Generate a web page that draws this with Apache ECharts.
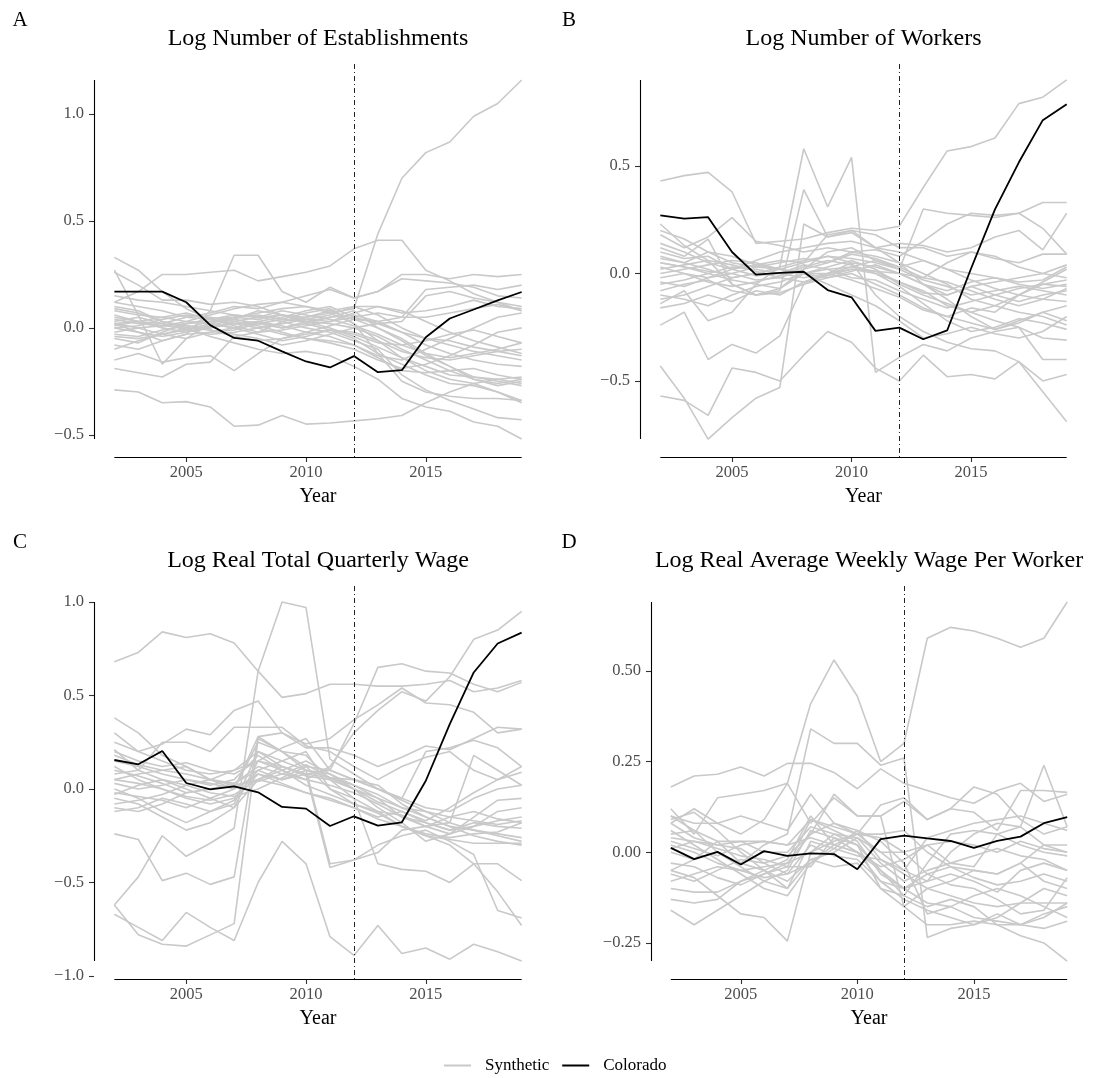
<!DOCTYPE html>
<html>
<head>
<meta charset="utf-8">
<title>Synthetic control placebo paths</title>
<script src="https://cdn.jsdelivr.net/npm/echarts@6/dist/echarts.min.js"></script>
<style>
  html, body { margin: 0; padding: 0; background: #ffffff; }
  #chart { width: 1099px; height: 1078px; }
</style>
</head>
<body>
<div id="chart"></div>
<script>
// Years on the horizontal axis and the policy year marked by the vertical line
const years = [2002, 2003, 2004, 2005, 2006, 2007, 2008, 2009, 2010, 2011, 2012, 2013, 2014, 2015, 2016, 2017, 2018, 2019];
const policyYear = 2012;
const xTicks = [2005, 2010, 2015];

// Panel A: log number of establishments (gap to synthetic control)
const estabColorado = [0.17, 0.17, 0.17, 0.12, 0.013, -0.047, -0.06, -0.11, -0.157, -0.185, -0.132, -0.207, -0.198, -0.044, 0.044, 0.086, 0.129, 0.168];
const estabSynthetic = [
  [0.02, 0.03, 0.01, 0.02, 0.03, 0.05, 0.04, 0.06, 0.05, 0.07, 0.09, 0.44, 0.70, 0.82, 0.87, 0.99, 1.05, 1.16],
  [-0.29, -0.30, -0.35, -0.345, -0.37, -0.46, -0.455, -0.41, -0.45, -0.445, -0.435, -0.425, -0.41, -0.35, -0.30, -0.26, -0.24, -0.23],
  [0.12, 0.17, 0.25, 0.25, 0.26, 0.27, 0.22, 0.24, 0.26, 0.29, 0.37, 0.41, 0.41, 0.27, 0.22, 0.16, 0.12, 0.08],
  [0.02, -0.02, -0.06, -0.03, 0.08, 0.34, 0.34, 0.17, 0.12, 0.19, 0.14, 0.17, 0.25, 0.25, 0.23, 0.25, 0.24, 0.25],
  [0.33, 0.27, 0.17, 0.09, 0.04, 0.02, 0.03, 0.0, 0.02, 0.05, 0.08, 0.0, -0.05, -0.12, -0.18, -0.24, -0.27, -0.25],
  [0.27, 0.06, -0.17, -0.05, 0.02, 0.05, 0.06, 0.04, 0.07, 0.09, 0.02, -0.06, -0.14, -0.20, -0.24, -0.26, -0.30, -0.34],
  [0.26, 0.20, 0.13, 0.13, 0.11, 0.12, 0.10, 0.06, 0.03, 0.0, -0.04, -0.09, -0.14, -0.18, -0.22, -0.23, -0.25, -0.27],
  [-0.19, -0.21, -0.23, -0.17, -0.16, -0.04, -0.02, 0.03, 0.05, 0.08, 0.10, 0.06, 0.0, -0.05, -0.08, -0.11, -0.13, -0.15],
  [-0.15, -0.12, -0.16, -0.14, -0.13, -0.20, -0.12, -0.05, -0.02, 0.01, 0.04, 0.03, 0.05, 0.18, 0.19, 0.20, 0.18, 0.20],
  [0.10, 0.08, 0.03, 0.0, -0.04, -0.07, -0.10, -0.12, -0.11, -0.13, -0.18, -0.24, -0.33, -0.37, -0.39, -0.44, -0.46, -0.52],
  [-0.05, -0.07, -0.02, 0.02, 0.04, 0.06, 0.05, 0.03, 0.0, -0.02, -0.06, -0.10, -0.22, -0.29, -0.34, -0.38, -0.42, -0.43],
  [0.05, 0.03, 0.02, 0.05, 0.07, 0.10, 0.09, 0.12, 0.15, 0.18, 0.14, 0.17, 0.23, 0.22, 0.21, 0.19, 0.15, 0.14],
  [0.0, 0.01, 0.04, 0.06, 0.05, 0.03, 0.01, -0.02, -0.05, -0.06, -0.08, -0.14, -0.20, -0.21, -0.20, -0.19, -0.22, -0.24],
  [0.03, 0.05, 0.02, -0.01, -0.03, -0.02, 0.0, 0.02, 0.04, 0.06, 0.10, 0.10, 0.07, 0.08, 0.10, 0.13, 0.10, 0.09],
  [-0.03, -0.04, -0.01, 0.01, 0.0, 0.03, 0.05, 0.08, 0.06, 0.04, 0.01, -0.03, -0.08, -0.12, -0.14, -0.12, -0.10, -0.07],
  [0.08, 0.06, 0.05, 0.03, 0.02, 0.0, -0.03, -0.06, -0.04, -0.01, -0.05, -0.12, -0.17, -0.22, -0.26, -0.27, -0.30, -0.35],
  [-0.08, -0.10, -0.06, -0.03, -0.02, -0.01, 0.02, 0.04, 0.03, 0.05, 0.06, 0.03, -0.02, -0.05, -0.06, -0.09, -0.11, -0.13],
  [0.02, 0.0, -0.03, -0.05, -0.02, 0.0, 0.03, 0.01, -0.02, -0.04, -0.08, -0.13, -0.15, -0.10, -0.05, 0.0, 0.05, 0.07],
  [0.12, 0.10, 0.08, 0.05, 0.04, 0.05, 0.07, 0.09, 0.10, 0.08, 0.04, 0.0, -0.06, -0.13, -0.18, -0.23, -0.24, -0.26],
  [-0.02, 0.0, 0.01, 0.0, -0.01, -0.03, -0.05, -0.08, -0.06, -0.03, 0.0, 0.02, 0.03, 0.15, 0.17, 0.14, 0.12, 0.10],
  [0.06, 0.03, 0.0, -0.02, 0.0, 0.02, 0.0, -0.03, -0.05, -0.07, -0.10, -0.15, -0.19, -0.17, -0.13, -0.08, -0.02, 0.0],
  [-0.10, -0.06, -0.03, 0.0, 0.03, 0.04, 0.02, 0.0, 0.03, 0.02, 0.0, -0.04, -0.10, -0.15, -0.20, -0.24, -0.26, -0.24],
  [0.15, 0.13, 0.12, 0.10, 0.08, 0.06, 0.05, 0.06, 0.04, 0.03, 0.05, 0.07, 0.05, 0.05, 0.07, 0.09, 0.11, 0.08],
  [0.0, -0.02, -0.04, -0.02, 0.01, 0.04, 0.08, 0.06, 0.02, -0.01, -0.03, -0.07, -0.08, -0.06, -0.03, -0.01, -0.04, -0.07],
  [0.09, 0.07, 0.03, 0.01, -0.01, -0.04, -0.06, -0.05, -0.03, -0.01, -0.02, -0.06, -0.11, -0.14, -0.15, -0.13, -0.11, -0.10],
  [-0.04, -0.05, -0.03, -0.01, 0.02, 0.0, 0.03, 0.05, 0.08, 0.10, 0.05, 0.02, -0.02, -0.08, -0.12, -0.15, -0.17, -0.18],
  [0.04, 0.02, 0.01, 0.03, 0.06, 0.09, 0.11, 0.12, 0.10, 0.07, 0.02, -0.12, -0.25, -0.30, -0.32, -0.33, -0.33, -0.34],
  [0.01, 0.03, 0.05, 0.07, 0.04, 0.01, -0.02, -0.01, 0.01, 0.03, 0.07, 0.10, 0.08, 0.03, -0.02, -0.06, -0.09, -0.12]
];
const estabTicks = [-0.5, 0, 0.5, 1.0];
const estabTickLabels = ['\u22120.5', '0.0', '0.5', '1.0'];

// Panel B: log number of workers
const workersColorado = [0.27, 0.255, 0.262, 0.10, -0.005, 0.003, 0.008, -0.077, -0.111, -0.267, -0.252, -0.306, -0.265, 0.023, 0.298, 0.517, 0.713, 0.787];
const workersSynthetic = [
  [0.43, 0.455, 0.47, 0.38, 0.14, 0.15, 0.16, 0.19, 0.21, 0.20, 0.22, 0.40, 0.57, 0.59, 0.63, 0.79, 0.82, 0.90],
  [0.05, 0.03, 0.0, -0.03, -0.05, 0.03, 0.58, 0.31, 0.54, -0.46, -0.39, -0.33, -0.36, -0.30, -0.27, -0.25, -0.40, -0.40],
  [0.12, 0.08, 0.16, -0.05, -0.10, -0.08, 0.39, 0.17, 0.20, 0.12, 0.14, 0.13, 0.10, 0.12, 0.17, 0.20, 0.11, 0.28],
  [-0.43, -0.58, -0.77, -0.67, -0.58, -0.53, 0.23, 0.17, 0.19, 0.12, 0.05, -0.05, -0.12, -0.20, -0.26, -0.23, -0.18, -0.22],
  [-0.57, -0.59, -0.66, -0.44, -0.46, -0.50, -0.38, -0.27, -0.32, -0.44, -0.50, -0.38, -0.48, -0.47, -0.49, -0.41, -0.50, -0.47],
  [-0.24, -0.18, -0.40, -0.33, -0.37, -0.29, -0.05, 0.0, 0.05, -0.10, -0.20, -0.27, -0.32, -0.35, -0.36, -0.41, -0.55, -0.69],
  [0.23, 0.13, 0.06, -0.05, -0.10, -0.07, 0.02, 0.10, 0.12, 0.06, 0.02, 0.30, 0.28, 0.27, 0.26, 0.28, 0.33, 0.33],
  [0.18, 0.12, 0.17, 0.26, 0.15, 0.13, 0.10, 0.12, 0.10, 0.11, 0.08, 0.15, 0.23, 0.28, 0.27, 0.28, 0.21, 0.09],
  [0.14, 0.10, 0.05, 0.02, 0.04, 0.06, 0.05, 0.18, 0.20, 0.18, 0.12, 0.12, 0.08, 0.10, 0.07, 0.05, 0.09, 0.09],
  [-0.14, -0.08, -0.22, -0.18, -0.05, -0.07, 0.0, 0.02, 0.03, 0.01, -0.04, -0.08, -0.15, -0.18, -0.15, -0.10, -0.05, -0.03],
  [0.08, 0.05, 0.02, -0.02, 0.0, 0.03, 0.06, 0.08, 0.07, 0.05, 0.02, -0.03, -0.06, -0.10, -0.08, -0.06, -0.08, -0.10],
  [-0.10, -0.12, -0.15, -0.10, -0.06, -0.04, 0.0, 0.03, 0.06, 0.02, -0.05, -0.10, -0.14, -0.18, -0.22, -0.25, -0.30, -0.31],
  [0.0, 0.02, 0.04, 0.06, 0.05, 0.02, 0.0, -0.02, 0.01, 0.04, 0.0, -0.05, -0.08, -0.04, -0.02, -0.05, -0.07, -0.05],
  [0.05, 0.03, 0.01, 0.0, -0.03, -0.02, 0.02, 0.05, 0.10, 0.08, 0.05, 0.0, -0.05, -0.12, -0.15, -0.18, -0.20, -0.24],
  [-0.05, -0.03, 0.0, 0.03, 0.02, 0.0, -0.02, 0.0, 0.03, 0.06, 0.03, 0.06, 0.02, 0.0, -0.02, -0.04, -0.03, 0.03],
  [0.10, 0.07, 0.08, 0.02, -0.01, 0.0, 0.04, 0.02, -0.02, -0.03, -0.08, -0.12, -0.16, -0.13, -0.10, -0.07, -0.05, -0.06],
  [-0.02, 0.0, -0.04, -0.06, -0.04, -0.01, 0.03, 0.06, 0.04, 0.0, -0.04, -0.09, -0.10, -0.06, -0.10, -0.13, -0.10, -0.08],
  [0.20, 0.16, 0.10, 0.05, 0.03, 0.02, 0.0, 0.0, 0.02, 0.01, 0.0, -0.02, 0.05, 0.10, 0.08, 0.03, 0.0, -0.02],
  [-0.08, -0.05, -0.03, -0.08, -0.10, -0.09, -0.05, -0.02, 0.0, -0.05, -0.10, -0.16, -0.20, -0.23, -0.26, -0.22, -0.18, -0.15],
  [0.03, 0.0, -0.02, 0.02, 0.06, 0.10, 0.12, 0.14, 0.15, 0.12, 0.10, 0.06, 0.02, -0.03, -0.07, -0.10, -0.12, -0.13],
  [-0.12, -0.10, -0.06, -0.02, 0.0, 0.02, 0.0, -0.05, -0.10, -0.15, -0.22, -0.30, -0.28, -0.25, -0.28, -0.30, -0.27, -0.20],
  [0.07, 0.05, 0.10, 0.08, 0.04, 0.02, 0.05, 0.08, 0.05, 0.03, 0.0, -0.05, -0.10, -0.06, -0.04, -0.02, 0.0, 0.04],
  [-0.04, -0.06, -0.02, 0.0, 0.03, 0.05, 0.07, 0.05, 0.09, 0.07, 0.03, -0.02, -0.04, -0.08, -0.12, -0.15, -0.12, -0.07],
  [0.02, 0.04, 0.06, 0.04, 0.01, -0.02, -0.04, -0.01, 0.02, 0.0, -0.06, -0.14, -0.22, -0.27, -0.25, -0.21, -0.23, -0.26],
  [-0.16, -0.14, -0.10, -0.13, -0.08, -0.10, -0.04, 0.0, -0.03, -0.07, -0.11, -0.17, -0.20, -0.16, -0.18, -0.10, -0.04, 0.02]
];
const workersTicks = [-0.5, 0, 0.5];
const workersTickLabels = ['\u22120.5', '0.0', '0.5'];

// Panel C: log real total quarterly wage
const totalWageColorado = [0.155, 0.132, 0.203, 0.032, -0.002, 0.014, -0.018, -0.096, -0.105, -0.198, -0.146, -0.196, -0.178, 0.044, 0.347, 0.623, 0.778, 0.836];
const totalWageSynthetic = [
  [0.68, 0.73, 0.84, 0.81, 0.83, 0.78, 0.63, 0.49, 0.51, 0.56, 0.56, 0.55, 0.55, 0.56, 0.58, 0.52, 0.54, 0.58],
  [-0.62, -0.47, -0.25, -0.36, -0.29, -0.21, 0.63, 1.0, 0.97, 0.16, 0.08, 0.0, -0.06, -0.12, -0.18, -0.22, -0.25, -0.28],
  [-0.24, -0.27, -0.49, -0.45, -0.51, -0.47, 0.28, 0.30, 0.24, 0.27, 0.37, 0.45, 0.54, 0.46, 0.45, 0.41, 0.30, 0.32],
  [-0.67, -0.74, -0.81, -0.66, -0.74, -0.81, -0.50, -0.28, -0.40, -0.79, -0.89, -0.73, -0.88, -0.85, -0.91, -0.83, -0.87, -0.92],
  [-0.62, -0.78, -0.83, -0.84, -0.78, -0.72, 0.27, 0.20, 0.10, -0.40, -0.38, -0.34, -0.22, -0.20, -0.15, -0.12, -0.16, -0.18],
  [0.38, 0.30, 0.18, 0.12, 0.05, 0.03, 0.10, 0.05, 0.08, 0.10, 0.35, 0.65, 0.67, 0.63, 0.62, 0.56, 0.52, 0.57],
  [0.20, 0.15, 0.12, 0.14, 0.10, 0.08, 0.15, 0.10, 0.05, 0.12, 0.30, 0.42, 0.52, 0.47, 0.60, 0.80, 0.85, 0.95],
  [0.30, 0.20, 0.24, 0.32, 0.29, 0.42, 0.47, 0.30, 0.22, 0.22, 0.18, 0.12, 0.17, 0.23, 0.21, 0.27, 0.33, 0.32],
  [0.21, 0.10, 0.25, 0.25, 0.20, 0.33, 0.33, 0.33, 0.23, 0.20, 0.12, 0.05, 0.12, 0.17, 0.20, 0.10, 0.05, 0.12],
  [0.05, 0.08, 0.10, 0.12, 0.05, 0.0, 0.25, 0.20, 0.18, 0.05, 0.0, -0.05, -0.15, -0.20, -0.18, 0.18, 0.10, 0.02],
  [0.12, 0.05, 0.0, -0.05, -0.08, -0.05, 0.10, 0.15, 0.20, 0.0, -0.08, -0.13, -0.20, -0.25, -0.30, -0.40, -0.55, -0.73],
  [0.0, -0.05, -0.12, -0.18, -0.12, -0.08, 0.20, 0.12, 0.07, 0.05, -0.05, -0.40, -0.43, -0.44, -0.50, -0.40, -0.40, -0.49],
  [-0.05, -0.08, -0.15, -0.22, -0.18, -0.10, 0.05, 0.12, 0.08, -0.42, -0.38, -0.30, -0.25, -0.22, -0.28, -0.35, -0.65, -0.69],
  [0.03, 0.0, 0.02, 0.05, 0.03, 0.0, 0.08, 0.05, 0.10, 0.06, 0.02, -0.05, -0.10, -0.15, -0.20, -0.22, -0.24, -0.26],
  [-0.10, -0.12, -0.08, -0.02, 0.0, 0.02, 0.05, 0.02, -0.02, -0.06, -0.10, -0.15, -0.12, -0.18, -0.22, -0.20, -0.17, -0.15],
  [0.08, 0.10, 0.05, 0.02, -0.02, -0.04, 0.0, 0.06, 0.12, 0.10, 0.05, 0.0, -0.05, -0.10, -0.12, -0.05, 0.0, 0.02],
  [-0.03, 0.02, 0.05, 0.0, -0.05, -0.10, 0.15, 0.22, 0.27, 0.10, 0.05, 0.02, -0.08, -0.15, -0.20, -0.25, -0.28, -0.30],
  [0.15, 0.12, 0.08, 0.05, 0.02, 0.05, 0.18, 0.10, 0.02, -0.03, -0.08, -0.12, -0.14, -0.20, -0.24, -0.20, -0.12, -0.10],
  [-0.08, -0.06, -0.03, 0.02, 0.05, 0.10, 0.20, 0.15, 0.10, 0.08, 0.0, -0.07, -0.12, -0.17, -0.10, -0.02, 0.05, 0.09],
  [0.10, 0.07, 0.03, -0.02, 0.0, 0.03, 0.12, 0.08, 0.05, 0.02, -0.02, -0.08, -0.15, -0.18, -0.22, -0.18, -0.20, -0.21],
  [-0.12, -0.10, -0.05, -0.08, -0.12, -0.06, 0.08, 0.03, -0.02, -0.05, -0.10, -0.16, -0.20, -0.24, -0.26, -0.24, -0.23, -0.18],
  [0.05, 0.03, 0.0, -0.04, -0.06, -0.03, 0.05, 0.10, 0.15, 0.08, 0.02, -0.03, -0.10, -0.12, -0.15, -0.17, -0.19, -0.17],
  [0.18, 0.13, 0.10, 0.08, 0.05, 0.02, 0.04, 0.08, 0.13, 0.06, 0.0, -0.10, -0.18, -0.28, -0.24, -0.15, -0.06, -0.05],
  [-0.02, -0.04, -0.06, -0.10, -0.05, 0.0, 0.28, 0.20, 0.12, 0.0, -0.05, -0.12, -0.20, -0.25, -0.27, -0.29, -0.29, -0.29],
  [0.25, 0.20, 0.15, 0.10, 0.08, 0.10, 0.15, 0.12, 0.08, 0.06, 0.05, 0.0, -0.05, 0.20, 0.22, 0.26, 0.22, 0.12]
];
const totalWageTicks = [-1.0, -0.5, 0, 0.5, 1.0];
const totalWageTickLabels = ['\u22121.0', '\u22120.5', '0.0', '0.5', '1.0'];

// Panel D: log real average weekly wage per worker
const weeklyWageColorado = [0.012, -0.019, 0.001, -0.034, 0.003, -0.01, -0.003, -0.005, -0.047, 0.036, 0.046, 0.038, 0.031, 0.012, 0.031, 0.043, 0.08, 0.097];
const weeklyWageSynthetic = [
  [0.08, 0.12, 0.08, 0.05, 0.09, 0.19, 0.41, 0.53, 0.43, 0.25, 0.30, 0.59, 0.62, 0.61, 0.59, 0.565, 0.59, 0.69],
  [0.10, 0.06, 0.0, -0.03, 0.02, 0.05, 0.34, 0.30, 0.30, 0.24, 0.26, -0.235, -0.21, -0.20, -0.17, -0.20, -0.17, -0.15],
  [0.18, 0.21, 0.215, 0.235, 0.21, 0.245, 0.245, 0.22, 0.175, 0.23, 0.19, 0.17, 0.15, 0.135, 0.17, 0.19, 0.14, 0.16],
  [0.12, 0.05, 0.15, 0.16, 0.17, 0.19, 0.08, 0.15, 0.10, 0.10, 0.14, 0.09, 0.12, 0.18, 0.16, 0.09, 0.05, 0.07],
  [0.0, -0.02, 0.03, -0.03, -0.05, -0.02, 0.10, 0.02, 0.0, -0.05, -0.10, -0.08, 0.0, 0.05, 0.08, 0.07, 0.24, 0.07],
  [-0.16, -0.20, -0.16, -0.12, -0.08, -0.10, -0.02, -0.04, -0.03, -0.10, -0.15, -0.20, -0.20, -0.19, -0.20, -0.23, -0.25, -0.30],
  [-0.05, -0.07, -0.12, -0.17, -0.18, -0.245, 0.0, 0.05, 0.02, -0.10, -0.12, -0.15, -0.13, -0.15, -0.20, -0.20, -0.18, -0.14],
  [-0.13, -0.14, -0.13, -0.08, -0.06, -0.03, 0.05, 0.16, 0.10, 0.10, -0.15, -0.10, -0.08, -0.05, -0.06, -0.03, -0.08, -0.10],
  [0.10, 0.08, 0.08, 0.10, 0.08, 0.06, 0.16, 0.08, 0.05, 0.13, 0.15, 0.09, 0.12, 0.11, 0.06, 0.17, 0.17, 0.165],
  [0.04, 0.03, 0.02, 0.03, 0.03, 0.02, 0.04, 0.02, 0.05, 0.05, 0.06, 0.0, -0.04, -0.05, -0.06, -0.03, 0.02, 0.02],
  [-0.05, -0.02, 0.0, -0.04, -0.08, -0.05, 0.06, 0.04, 0.02, -0.05, -0.12, -0.03, 0.05, 0.06, 0.05, 0.02, 0.0, -0.01],
  [0.06, 0.02, -0.02, -0.06, -0.10, -0.12, -0.03, 0.02, 0.0, -0.08, -0.10, -0.14, -0.15, -0.12, -0.10, -0.12, -0.15, -0.18],
  [-0.10, -0.11, -0.11, -0.08, -0.05, -0.10, 0.03, 0.01, 0.06, -0.02, -0.06, -0.10, -0.12, -0.14, -0.15, -0.14, -0.14, -0.14],
  [0.02, 0.0, -0.03, -0.05, -0.04, -0.03, 0.0, 0.03, 0.05, 0.0, -0.05, 0.04, 0.06, 0.08, 0.09, 0.10, 0.08, 0.06],
  [0.09, 0.11, 0.06, 0.0, -0.05, -0.08, -0.02, 0.0, 0.04, -0.03, -0.08, -0.05, -0.03, -0.01, 0.01, -0.01, -0.02, -0.05],
  [-0.03, -0.04, -0.07, -0.09, -0.06, -0.04, 0.09, 0.06, 0.03, -0.06, -0.10, -0.06, -0.09, -0.10, -0.13, -0.17, -0.16, -0.07],
  [0.05, 0.06, 0.03, 0.03, 0.0, 0.0, 0.07, 0.05, 0.04, 0.0, 0.0, 0.02, 0.03, 0.02, 0.0, 0.03, 0.01, 0.0],
  [-0.06, -0.08, -0.05, -0.02, -0.03, -0.06, 0.02, -0.01, -0.02, -0.08, -0.13, -0.16, -0.18, -0.20, -0.18, -0.14, -0.10, -0.12],
  [0.01, 0.03, 0.01, -0.01, -0.02, -0.04, -0.04, 0.04, 0.0, -0.04, -0.02, 0.02, -0.03, -0.04, 0.05, 0.07, 0.02, 0.0],
  [-0.08, -0.06, -0.04, -0.05, -0.07, -0.06, -0.03, 0.01, -0.01, -0.02, -0.05, -0.08, -0.06, -0.08, -0.11, -0.05, -0.03, -0.05],
  [0.08, 0.04, 0.02, 0.01, -0.03, -0.01, 0.05, 0.08, 0.06, 0.03, -0.03, -0.17, -0.15, -0.18, -0.19, -0.20, -0.21, -0.19],
  [0.03, 0.01, -0.01, 0.02, 0.03, 0.02, 0.09, 0.07, 0.05, 0.04, 0.0, -0.06, -0.04, -0.07, -0.09, -0.08, -0.06, -0.08]
];
const weeklyWageTicks = [-0.25, 0, 0.25, 0.5];
const weeklyWageTickLabels = ['\u22120.25', '0.00', '0.25', '0.50'];

// Styling
const SERIF = '"Liberation Serif", "Times New Roman", "DejaVu Serif", serif';
const GREY = '#c9c9c9';
const INK = '#000000';
const TICK_INK = '#4d4d4d';

const panels = [
  { letter: 'A', title: 'Log Number of Establishments', colorado: estabColorado, synthetic: estabSynthetic,
    ticks: estabTicks, tickLabels: estabTickLabels, box: { left: 94, top: 62, width: 448, height: 395 } },
  { letter: 'B', title: 'Log Number of Workers', colorado: workersColorado, synthetic: workersSynthetic,
    ticks: workersTicks, tickLabels: workersTickLabels, box: { left: 640, top: 62, width: 447, height: 395 } },
  { letter: 'C', title: 'Log Real Total Quarterly Wage', colorado: totalWageColorado, synthetic: totalWageSynthetic,
    ticks: totalWageTicks, tickLabels: totalWageTickLabels, box: { left: 94, top: 584, width: 448, height: 395 } },
  { letter: 'D', title: 'Log Real Average Weekly Wage Per Worker', colorado: weeklyWageColorado, synthetic: weeklyWageSynthetic,
    ticks: weeklyWageTicks, tickLabels: weeklyWageTickLabels, box: { left: 651, top: 584, width: 436, height: 395 } }
];

const grids = [], xAxes = [], yAxes = [], series = [], graphics = [];

const xFirst = years[0], xLast = years[years.length - 1];
const xPad = 0.05 * (xLast - xFirst);
const xMin = xFirst - xPad, xMax = xLast + xPad;

panels.forEach((p, i) => {
  const all = p.synthetic.flat().concat(p.colorado);
  const lo = Math.min.apply(null, all), hi = Math.max.apply(null, all);
  const yPad = 0.05 * (hi - lo);
  const yMin = lo - yPad, yMax = hi + yPad;

  grids.push(Object.assign({ containLabel: false }, p.box));

  xAxes.push({
    gridIndex: i, type: 'value', min: xMin, max: xMax, position: 'bottom',
    axisLine: { show: false, onZero: false }, splitLine: { show: false },
    axisTick: { show: true, customValues: xTicks, length: 5, lineStyle: { color: '#333333', width: 1.1 } },
    axisLabel: { customValues: xTicks, margin: 7, color: TICK_INK, fontFamily: SERIF, fontSize: 16.5,
                 formatter: v => String(Math.round(v)) },
    name: 'Year', nameLocation: 'middle', nameGap: 30,
    nameTextStyle: { fontFamily: SERIF, fontSize: 20, color: INK }
  });

  const labelFor = v => {
    const k = p.ticks.findIndex(t => Math.abs(t - v) < 1e-9);
    return k >= 0 ? p.tickLabels[k] : '';
  };
  yAxes.push({
    gridIndex: i, type: 'value', min: yMin, max: yMax, position: 'left',
    axisLine: { show: false, onZero: false }, splitLine: { show: false },
    axisTick: { show: true, customValues: p.ticks, length: 5, lineStyle: { color: '#333333', width: 1.1 } },
    axisLabel: { customValues: p.ticks, margin: 10, color: TICK_INK, fontFamily: SERIF, fontSize: 16.5, formatter: labelFor }
  });

  p.synthetic.forEach(path => {
    series.push({
      type: 'line', name: 'Synthetic', xAxisIndex: i, yAxisIndex: i,
      data: years.map((yr, k) => [yr, path[k]]),
      symbol: 'none', silent: true, z: 2,
      itemStyle: { color: GREY }, lineStyle: { color: GREY, width: 1.6 },
      emphasis: { disabled: true }
    });
  });

  series.push({
    type: 'line', name: 'Colorado', xAxisIndex: i, yAxisIndex: i,
    data: years.map((yr, k) => [yr, p.colorado[k]]),
    symbol: 'none', silent: true, z: 3, clip: false,
    itemStyle: { color: INK }, lineStyle: { color: INK, width: 1.8 },
    emphasis: { disabled: true },
    markLine: {
      silent: true, symbol: ['none', 'none'], label: { show: false }, animation: false,
      emphasis: { disabled: true },
      data: [
        // policy year reference line
        { xAxis: policyYear, lineStyle: { color: '#222222', width: 1, type: [1, 3, 5, 3] } },
        // range frame: vertical axis spans the data range
        [ { coord: [xMin, lo], lineStyle: { color: INK, width: 1.1, type: 'solid' } }, { coord: [xMin, hi] } ],
        // range frame: horizontal axis spans the observed years
        [ { coord: [xFirst, yMin], lineStyle: { color: INK, width: 1.1, type: 'solid' } }, { coord: [xLast, yMin] } ]
      ]
    }
  });

  const cx = p.box.left + p.box.width / 2;
  graphics.push({
    type: 'text', x: cx, y: p.box.top - 23, silent: true,
    style: { text: p.title, font: '24px ' + SERIF, fill: INK, textAlign: 'center', textVerticalAlign: 'middle', align: 'center', verticalAlign: 'middle' }
  });
  graphics.push({
    type: 'text', x: i % 2 === 0 ? 20 : 569, y: p.box.top - 42, silent: true,
    style: { text: p.letter, font: '21px ' + SERIF, fill: INK, textAlign: 'center', textVerticalAlign: 'middle', align: 'center', verticalAlign: 'middle' }
  });
});

const chart = echarts.init(document.getElementById('chart'), null, { renderer: 'canvas' });
chart.setOption({
  backgroundColor: '#ffffff',
  animation: false,
  grid: grids,
  xAxis: xAxes,
  yAxis: yAxes,
  series: series,
  graphic: graphics,
  legend: {
    data: ['Synthetic', 'Colorado'],
    left: 439, top: 1052,
    icon: 'rect', itemWidth: 27, itemHeight: 2, itemGap: 13,
    selectedMode: false,
    textStyle: { fontFamily: SERIF, fontSize: 17, color: INK, padding: [0, 0, 0, 9] }
  }
});
</script>
</body>
</html>
